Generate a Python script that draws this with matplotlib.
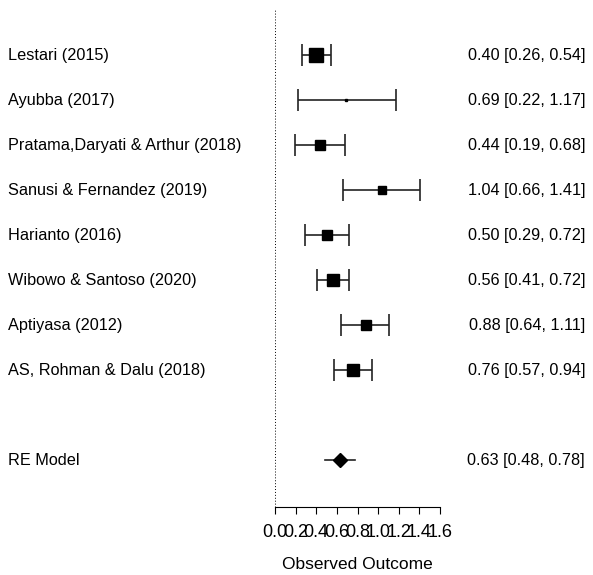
import matplotlib.pyplot as plt
import matplotlib.transforms as mtransforms

plt.rcParams['font.family'] = ['Liberation Sans', 'DejaVu Sans']

studies = ['Lestari (2015)', 'Ayubba (2017)', 'Pratama,Daryati & Arthur (2018)',
           'Sanusi & Fernandez (2019)', 'Harianto (2016)', 'Wibowo & Santoso (2020)',
           'Aptiyasa (2012)', 'AS, Rohman & Dalu (2018)']
est = [0.40, 0.69, 0.44, 1.04, 0.50, 0.56, 0.88, 0.76]
lower = [0.26, 0.22, 0.19, 0.66, 0.29, 0.41, 0.64, 0.57]
upper = [0.54, 1.17, 0.68, 1.41, 0.72, 0.72, 1.11, 0.94]
weights = [15.5, 2.5, 12.0, 8.5, 12.0, 14.0, 12.0, 13.5]  # relative weights (%)

re_label = 'RE Model'
re_est, re_lo, re_hi = 0.63, 0.48, 0.78

xticks = [0.0, 0.2, 0.4, 0.6, 0.8, 1.0, 1.2, 1.4, 1.6]

fig = plt.figure(figsize=(5.93, 5.75), dpi=100)
ax = fig.add_axes([275 / 593, 68 / 575, 165 / 593, 497 / 575])
lab_tr = mtransforms.blended_transform_factory(fig.transFigure, ax.transData)
x_left, x_right = 8 / 593, 585 / 593

n = len(studies)
rows = [n + 2 - i for i in range(n)]  # 10 .. 3
re_row = 1

ax.axvline(0, color='black', lw=0.7, ls=(0, (1, 2)))

for r, e, lo, hi, w, name in zip(rows, est, lower, upper, weights, studies):
    ax.errorbar(e, r, xerr=[[e - lo], [hi - e]], fmt='none', ecolor='#222222',
                elinewidth=1.2, capsize=7.9, capthick=1.2)
    ax.plot(e, r, marker='s', color='black', markersize=w * 0.62, ls='none')
    ax.text(x_left, r, name, ha='left', va='center', fontsize=11.7,
            transform=lab_tr, clip_on=False)
    ax.text(x_right, r, f'{e:.2f} [{lo:.2f}, {hi:.2f}]', ha='right', va='center',
            fontsize=11.7, transform=lab_tr, clip_on=False)

ax.plot([re_lo, re_hi], [re_row, re_row], color='#222222', lw=1.2)
ax.plot(re_est, re_row, marker='D', color='black', markersize=7, ls='none')
ax.text(x_left, re_row, re_label, ha='left', va='center', fontsize=11.7,
        transform=lab_tr, clip_on=False)
ax.text(x_right, re_row, f'{re_est:.2f} [{re_lo:.2f}, {re_hi:.2f}]',
        ha='right', va='center', fontsize=11.7, transform=lab_tr, clip_on=False)

ax.set_xlim(0, 1.6)
ax.set_ylim(-0.04, 11.0)
for s in ['top', 'right', 'left']:
    ax.spines[s].set_visible(False)
ax.spines['bottom'].set_linewidth(0.8)
ax.set_yticks([])
ax.set_xticks(xticks)
ax.set_xticklabels([f'{t:.1f}' for t in xticks], fontsize=13)
ax.tick_params(axis='x', length=5, width=0.8, pad=7)
ax.set_xlabel('Observed Outcome', fontsize=12.5, labelpad=12)

fig.savefig('out.png', dpi=100)
